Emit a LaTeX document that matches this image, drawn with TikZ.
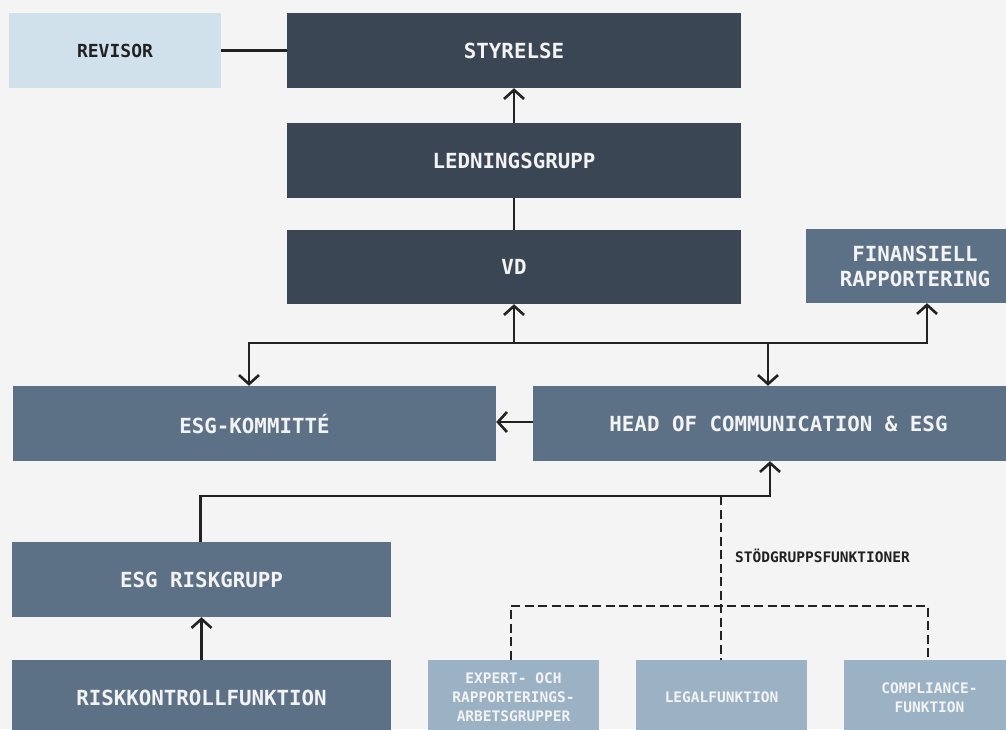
\documentclass[tikz,border=0pt]{standalone}
\usepackage{fontspec}
\newfontfamily\dmono{DejaVu Sans Mono}[BoldFont={DejaVu Sans Mono Bold}]
\usetikzlibrary{arrows.meta}
\definecolor{bg}{HTML}{F4F4F4}
\definecolor{darkbox}{HTML}{3B4655}
\definecolor{midbox}{HTML}{5C7186}
\definecolor{lightbox}{HTML}{9BB2C5}
\definecolor{revbox}{HTML}{D0E1EC}
\definecolor{ink}{HTML}{222222}
\definecolor{boxtext}{HTML}{F3F3F3}
\tikzset{
  basebox/.style={rectangle, inner sep=0pt, align=center, text=boxtext},
  darkstyle/.style={basebox, fill=darkbox, font=\dmono\bfseries\fontsize{20.8}{25}\selectfont},
  midstyle/.style={basebox, fill=midbox, font=\dmono\bfseries\fontsize{20.8}{25}\selectfont},
  lightstyle/.style={basebox, fill=lightbox, font=\dmono\bfseries\fontsize{14.5}{19}\selectfont},
  revstyle/.style={basebox, fill=revbox, text=ink, font=\dmono\bfseries\fontsize{18}{22}\selectfont},
  conn/.style={draw=ink, line width=2.6pt, line join=miter},
  arr/.style={conn, -{Straight Barb[length=9pt,width=20pt]}},
  dashconn/.style={draw=ink, line width=2.9pt, dash pattern=on 9pt off 4.5pt},
}
\begin{document}
\begin{tikzpicture}[x=1pt,y=-1pt]
\path[use as bounding box] (0,0) rectangle (1006,729);
\clip (0,0) rectangle (1006,729);
\fill[bg] (0,0) rectangle (1006,729);

% top column
\node[revstyle, minimum width=212pt, minimum height=75pt] (revisor) at (115,50.5) {REVISOR};
\node[darkstyle, minimum width=454pt, minimum height=75pt] (styrelse) at (514,50.5) {STYRELSE};
\node[darkstyle, minimum width=454pt, minimum height=75pt] (ledning) at (514,160.5) {LEDNINGSGRUPP};
\node[darkstyle, minimum width=454pt, minimum height=74pt] (vd) at (514,267) {VD};
\node[midstyle, minimum width=218pt, minimum height=74pt] (finans) at (915,266) {FINANSIELL\\RAPPORTERING};

% middle row
\node[midstyle, minimum width=483pt, minimum height=75pt] (esgk) at (254.5,423.5) {ESG-KOMMITTÉ};
\node[midstyle, minimum width=491pt, minimum height=75pt] (head) at (778.5,423.5) {HEAD OF COMMUNICATION \& ESG};

% left column
\node[midstyle, minimum width=379pt, minimum height=75pt] (riskgrupp) at (201.5,579.5) {ESG RISKGRUPP};
\node[midstyle, minimum width=379pt, minimum height=75pt] (riskkontroll) at (201.5,697.5) {RISKKONTROLLFUNKTION};

% bottom support boxes
\node[lightstyle, minimum width=171pt, minimum height=75pt] (expert) at (513.5,697.5) {EXPERT- OCH\\RAPPORTERINGS-\\ARBETSGRUPPER};
\node[lightstyle, minimum width=171pt, minimum height=75pt] (legal) at (721.5,697.5) {LEGALFUNKTION};
\node[lightstyle, minimum width=171pt, minimum height=75pt] (compliance) at (929.5,697.5) {COMPLIANCE-\\FUNKTION};

\node[anchor=west, inner sep=0pt, text=ink, font=\dmono\bfseries\fontsize{14.5}{18}\selectfont] (stod) at (735,556) {STÖDGRUPPSFUNKTIONER};

% connectors
\draw[conn] (revisor.east) -- (styrelse.west);
\draw[arr] (ledning.north) -- (styrelse.south);
\draw[conn] (vd.north) -- (ledning.south);

\coordinate (bM) at (514,343);
\coordinate (bL) at (249,343);
\coordinate (bH) at (768,343);
\coordinate (bR) at (927,343);
\draw[arr] (bM) -- (vd.south);
\draw[arr] (bM) -| (bL |- esgk.north);
\draw[arr] (bM) -| (bR |- finans.south);
\draw[arr] (bH) -- (bH |- head.north);

\draw[arr] (head.west |- 0,422) -- (esgk.east |- 0,422);

\coordinate (j1) at (770,496);
\draw[arr] (riskgrupp.north -| 200.5,0) |- (j1) -- (j1 |- head.south);
\draw[arr] (riskkontroll.north) -- (riskgrupp.south);

% dashed support lines
\coordinate (d0) at (721,496);
\coordinate (dC) at (721,606);
\draw[dashconn] (d0) -- (d0 |- legal.north);
\draw[dashconn] ([xshift=-2.5pt]expert.north) |- (dC) -| ([xshift=-1.5pt]compliance.north);
\end{tikzpicture}
\end{document}
